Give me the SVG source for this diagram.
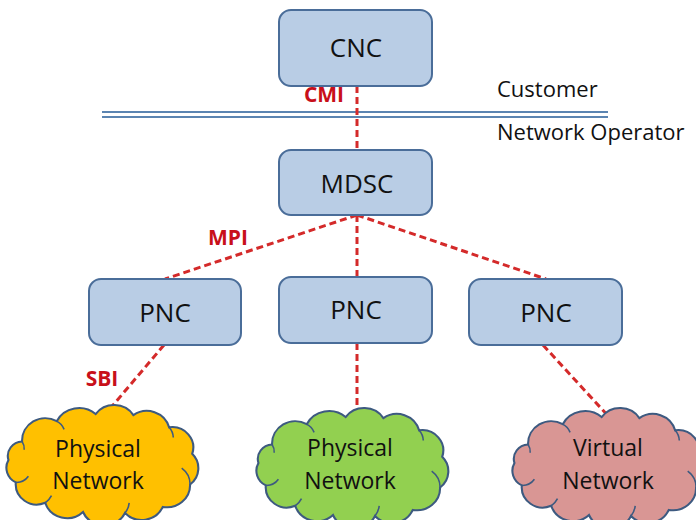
<svg xmlns="http://www.w3.org/2000/svg" width="696" height="520" viewBox="0 0 696 520">
<style>
.box{fill:#b9cde5;stroke:#4a6d99;stroke-width:2}
.nt{font-family:"Open Sans","Liberation Sans",sans-serif;font-size:26px;fill:#111;text-anchor:middle}
.ct{font-family:"Open Sans","Liberation Sans",sans-serif;font-size:23px;fill:#111;text-anchor:middle}
.lbl{font-family:"Open Sans","Liberation Sans",sans-serif;font-size:21px;font-weight:bold;fill:#c8101a;text-anchor:middle}
.side{font-family:"Open Sans","Liberation Sans",sans-serif;font-size:22px;fill:#111}
.dash{stroke:#d42a2a;stroke-width:3;stroke-dasharray:7 4;fill:none}
.cloud{stroke:#3d5a80;stroke-width:2}
.inner{fill:none;stroke:#3d5a80;stroke-width:1.5}
</style>
<defs>
<path id="cl" d="M-78,-20 A22,22 0 0 1 -45,-40 A24,24 0 0 1 -8,-47 A22,22 0 0 1 28,-46 A22,22 0 0 1 62,-34 A20,20 0 0 1 84,-8 A20,20 0 0 1 82,22 A22,22 0 0 1 56,44 A22,22 0 0 1 20,50 A22,22 0 0 1 -20,49 A22,22 0 0 1 -56,40 A20,20 0 0 1 -84,20 A16,16 0 0 1 -91,-2 A14,14 0 0 1 -78,-20 Z"/>
<g id="cli">
<path class="inner" d="M-84,20 A14,14 0 0 0 -72,14"/>
<path class="inner" d="M-56,40 A18,18 0 0 0 -50,33"/>
<path class="inner" d="M20,50 A20,20 0 0 0 24,40"/>
<path class="inner" d="M82,22 A20,20 0 0 0 74,6"/>
<path class="inner" d="M62,-34 A16,16 0 0 1 66,-24"/>
<path class="inner" d="M-45,-40 A16,16 0 0 1 -38,-32"/>
<path class="inner" d="M-78,-20 A12,12 0 0 1 -76,-12"/>
</g>
</defs>
<g id="boundary">
<line x1="102" y1="112" x2="608" y2="112" stroke="#5b84b1" stroke-width="2"/>
<line x1="102" y1="117" x2="608" y2="117" stroke="#5b84b1" stroke-width="2"/>
<text class="side" x="497" y="97">Customer</text>
<text class="side" x="497" y="140">Network Operator</text>
</g>
<g id="connectors">
<line class="dash" x1="357" y1="86" x2="357" y2="150"/>
<line class="dash" x1="357" y1="215" x2="165" y2="279"/>
<line class="dash" x1="357" y1="215" x2="357" y2="277"/>
<line class="dash" x1="357" y1="215" x2="546" y2="279"/>
<line class="dash" x1="164" y1="345" x2="103" y2="417"/>
<line class="dash" x1="357" y1="343" x2="357" y2="418"/>
<line class="dash" x1="543" y1="345" x2="610" y2="418"/>
<text class="lbl" x="324" y="102">CMI</text>
<text class="lbl" x="228" y="245">MPI</text>
<text class="lbl" x="102" y="386">SBI</text>
</g>
<g id="cnc"><rect class="box" x="279" y="10" width="153" height="76" rx="12"/><text class="nt" x="356" y="57">CNC</text></g>
<g id="mdsc"><rect class="box" x="279" y="150" width="153" height="65" rx="12"/><text class="nt" x="357" y="193">MDSC</text></g>
<g id="pnc1"><rect class="box" x="89" y="279" width="152" height="66" rx="12"/><text class="nt" x="165" y="322">PNC</text></g>
<g id="pnc2"><rect class="box" x="279" y="277" width="153" height="66" rx="12"/><text class="nt" x="356" y="319">PNC</text></g>
<g id="pnc3"><rect class="box" x="469" y="279" width="153" height="66" rx="12"/><text class="nt" x="546" y="322">PNC</text></g>
<g id="cloud1" transform="translate(104,462)"><g transform="scale(1.05,1.02)"><use href="#cl" class="cloud" fill="#ffc000"/><use href="#cli"/></g><text class="ct" x="-6" y="-5">Physical</text><text class="ct" x="-6" y="27">Network</text></g>
<g id="cloud2" transform="translate(354,465)"><g transform="scale(1.05,1.02)"><use href="#cl" class="cloud" fill="#92d050"/><use href="#cli"/></g><text class="ct" x="-4" y="-9">Physical</text><text class="ct" x="-4" y="24">Network</text></g>
<g id="cloud3" transform="translate(610,465)"><g transform="scale(1.05,1.02)"><use href="#cl" class="cloud" fill="#d99694"/><use href="#cli"/></g><text class="ct" x="-2" y="-9">Virtual</text><text class="ct" x="-2" y="24">Network</text></g>
</svg>
